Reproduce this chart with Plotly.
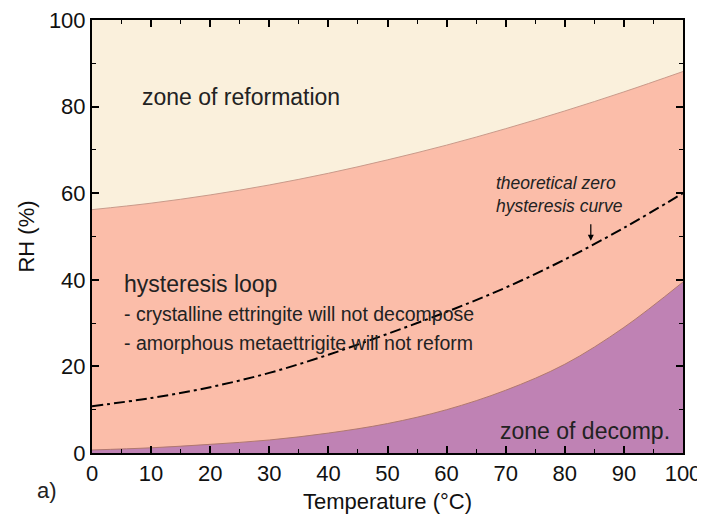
import plotly.graph_objects as go

# values
temp = [0, 10, 20, 30, 40, 50, 60, 70, 80, 90, 100]
rh_reform = [56.2, 57.7, 59.6, 61.9, 64.6, 67.7, 71.1, 74.9, 79.0, 83.4, 88.1]
rh_zero = [10.8, 12.7, 15.2, 18.5, 22.7, 27.5, 32.6, 38.2, 44.7, 52.0, 60]
rh_decomp = [0.7, 1.2, 2.0, 3.0, 4.6, 6.8, 10.0, 14.5, 20.5, 29.0, 39.5]

font = "Liberation Sans, Arial, sans-serif"

fig = go.Figure()

fig.add_trace(go.Scatter(x=temp, y=rh_reform, mode="lines", fill="tozeroy",
                         fillcolor="#fbbda9", line=dict(color="#c99a8a", width=1, shape="spline"),
                         showlegend=False, hoverinfo="skip"))
fig.add_trace(go.Scatter(x=temp, y=rh_decomp, mode="lines", fill="tozeroy",
                         fillcolor="#bf82b4", line=dict(color="#b0786f", width=1, shape="spline"),
                         showlegend=False, hoverinfo="skip"))
fig.add_trace(go.Scatter(x=temp, y=rh_zero, mode="lines",
                         line=dict(color="black", width=2, dash="11px,4px,3px,4px", shape="spline"),
                         showlegend=False, hoverinfo="skip"))

axis = dict(showline=True, linecolor="black", linewidth=2, mirror="ticks",
            ticks="inside", ticklen=7, tickwidth=1.5, tickcolor="black",
            showgrid=False, zeroline=False, automargin=False, ticklabeloverflow="allow",
            tickfont=dict(family=font, size=22, color="#111111"))

fig.update_xaxes(range=[0, 100], tick0=0, dtick=10,
                 minor=dict(ticks="inside", ticklen=4, tickwidth=1, tickcolor="black", dtick=5),
                 title=dict(text="Temperature (°C)", font=dict(family=font, size=22, color="#111111"),
                            standoff=8),
                 **axis)
fig.update_yaxes(range=[0, 100], tick0=0, dtick=20,
                 minor=dict(ticks="inside", ticklen=4, tickwidth=1, tickcolor="black", dtick=10),
                 title=dict(text="RH (%)", font=dict(family=font, size=22, color="#111111"),
                            standoff=8),
                 **axis)

ann = [
    dict(x=8.1, y=82.2, text="zone of reformation", xanchor="left", yanchor="middle",
         font=dict(size=23)),
    dict(x=5.1, y=39, text="hysteresis loop", xanchor="left", yanchor="middle",
         font=dict(size=23)),
    dict(x=5.1, y=32.1, text="- crystalline ettringite will not decompose", xanchor="left",
         yanchor="middle", font=dict(size=19.5)),
    dict(x=5.1, y=25.4, text="- amorphous metaettrigite will not reform", xanchor="left",
         yanchor="middle", font=dict(size=19.5)),
    dict(x=98.1, y=5.1, text="zone of decomp.", xanchor="right", yanchor="middle",
         font=dict(size=23)),
    dict(x=68, y=59.6, text="<i>theoretical zero<br>hysteresis curve</i>", xanchor="left",
         yanchor="middle", align="left", font=dict(size=17.5)),
    dict(x=84.4, y=49, ax=0, ay=-18, text="", showarrow=True, arrowhead=2,
         arrowsize=1, arrowwidth=1.2, arrowcolor="black"),
    dict(x=0, y=0, xref="paper", yref="paper", text="a)", xanchor="center",
         yanchor="middle", font=dict(size=22)),
]
for a in ann:
    a.setdefault("showarrow", False)
    a["font"] = dict(family=font, color="#222222", **a.get("font", {}))
    fig.add_annotation(**a)

# page body adds an 8px offset; figure reaches the right window edge
fig.update_layout(width=697, height=508, margin=dict(l=84, r=22, t=12, b=63),
                  plot_bgcolor="#faf0dc", paper_bgcolor="white")

# "a)" label at screen pixel (47, 490)
pw, ph = 591, 433
fig.layout.annotations[-1].x = (47 - 92) / pw
fig.layout.annotations[-1].y = (453 - 490) / ph

fig.write_html("out.html")
